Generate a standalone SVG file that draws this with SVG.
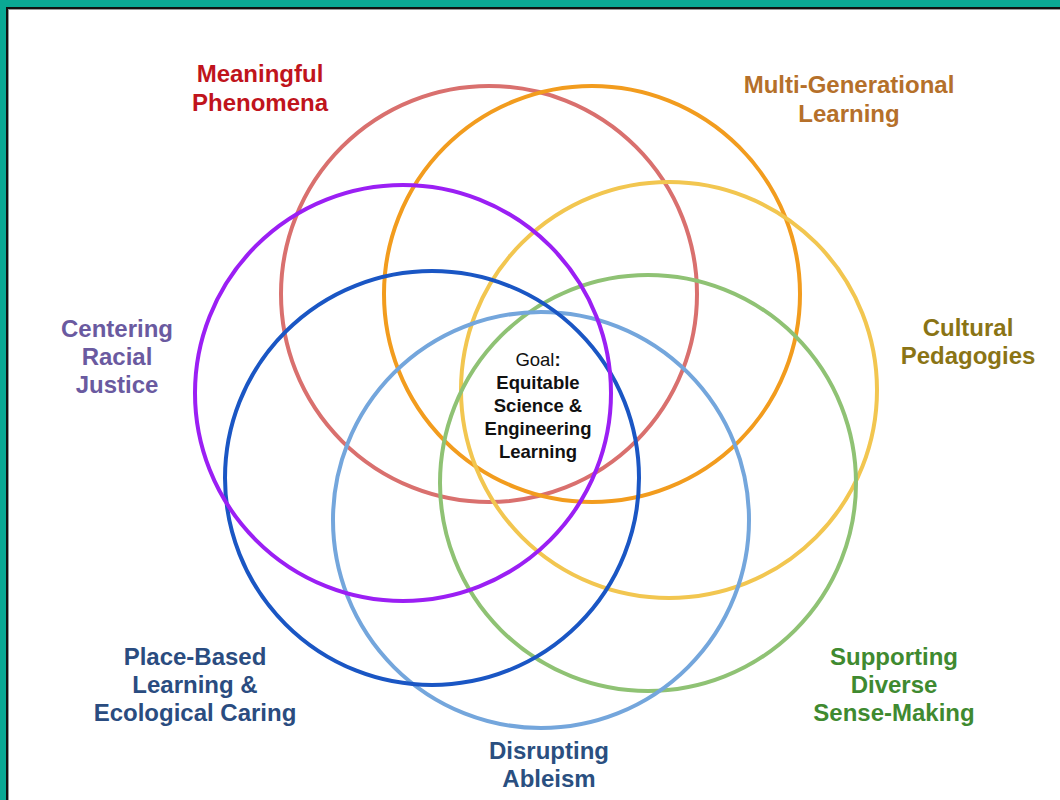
<svg xmlns="http://www.w3.org/2000/svg" width="1060" height="800" viewBox="0 0 1060 800">
<style>
.c{fill:none;stroke-width:4}
.l{font-family:"Liberation Sans",Arial,sans-serif;font-weight:bold;font-size:24px;text-anchor:middle}
.g{font-family:"Liberation Sans",Arial,sans-serif;font-weight:bold;font-size:18.5px;text-anchor:middle;fill:#111}
</style>
<rect x="0" y="0" width="1060" height="800" fill="#ffffff"/>
<rect x="0" y="0" width="1060" height="7" fill="#0aa894"/>
<rect x="0" y="0" width="6" height="800" fill="#0aa894"/>
<rect x="6" y="7" width="1054" height="2" fill="#111"/>
<rect x="6" y="7" width="2" height="793" fill="#111"/>
<rect x="8" y="9" width="1052" height="1" fill="#999"/>
<rect x="8" y="9" width="1" height="791" fill="#999"/>
<g id="circles">
<g id="meaningful-phenomena"><circle class="c" cx="489" cy="294" r="208" stroke="#d9706e"/></g>
<g id="multi-generational"><circle class="c" cx="592" cy="294" r="208" stroke="#f29c1e"/></g>
<g id="cultural-pedagogies"><circle class="c" cx="669" cy="390" r="208" stroke="#f2c650"/></g>
<g id="supporting-diverse"><circle class="c" cx="648" cy="483" r="208" stroke="#8fc274"/></g>
<g id="disrupting-ableism"><circle class="c" cx="541" cy="520" r="208" stroke="#74a6dc"/></g>
<g id="place-based"><circle class="c" cx="432" cy="478" r="207" stroke="#1a56c4"/></g>
<g id="centering-racial-justice"><circle class="c" cx="403" cy="393" r="208" stroke="#9b1ff4"/></g>
</g>
<g id="labels">
<text class="l" fill="#c0141c"><tspan x="260" y="82">Meaningful</tspan><tspan x="260" y="111">Phenomena</tspan></text>
<text class="l" fill="#b5702a"><tspan x="849" y="93">Multi-Generational</tspan><tspan x="849" y="122">Learning</tspan></text>
<text class="l" fill="#8a7415"><tspan x="968" y="336">Cultural</tspan><tspan x="968" y="364">Pedagogies</tspan></text>
<text class="l" fill="#6a5aa0"><tspan x="117" y="337">Centering</tspan><tspan x="117" y="365">Racial</tspan><tspan x="117" y="393">Justice</tspan></text>
<text class="l" fill="#2a4c80"><tspan x="195" y="665">Place-Based</tspan><tspan x="195" y="693">Learning &amp;</tspan><tspan x="195" y="721">Ecological Caring</tspan></text>
<text class="l" fill="#3f8a30"><tspan x="894" y="665">Supporting</tspan><tspan x="894" y="693">Diverse</tspan><tspan x="894" y="721">Sense-Making</tspan></text>
<text class="l" fill="#2a4f80"><tspan x="549" y="759">Disrupting</tspan><tspan x="549" y="787">Ableism</tspan></text>
</g>
<g id="goal">
<text class="g"><tspan x="538" y="366" font-weight="normal">Goal<tspan font-weight="bold">:</tspan></tspan><tspan x="538" y="389">Equitable</tspan><tspan x="538" y="412">Science &amp;</tspan><tspan x="538" y="435">Engineering</tspan><tspan x="538" y="458">Learning</tspan></text>
</g>
</svg>
